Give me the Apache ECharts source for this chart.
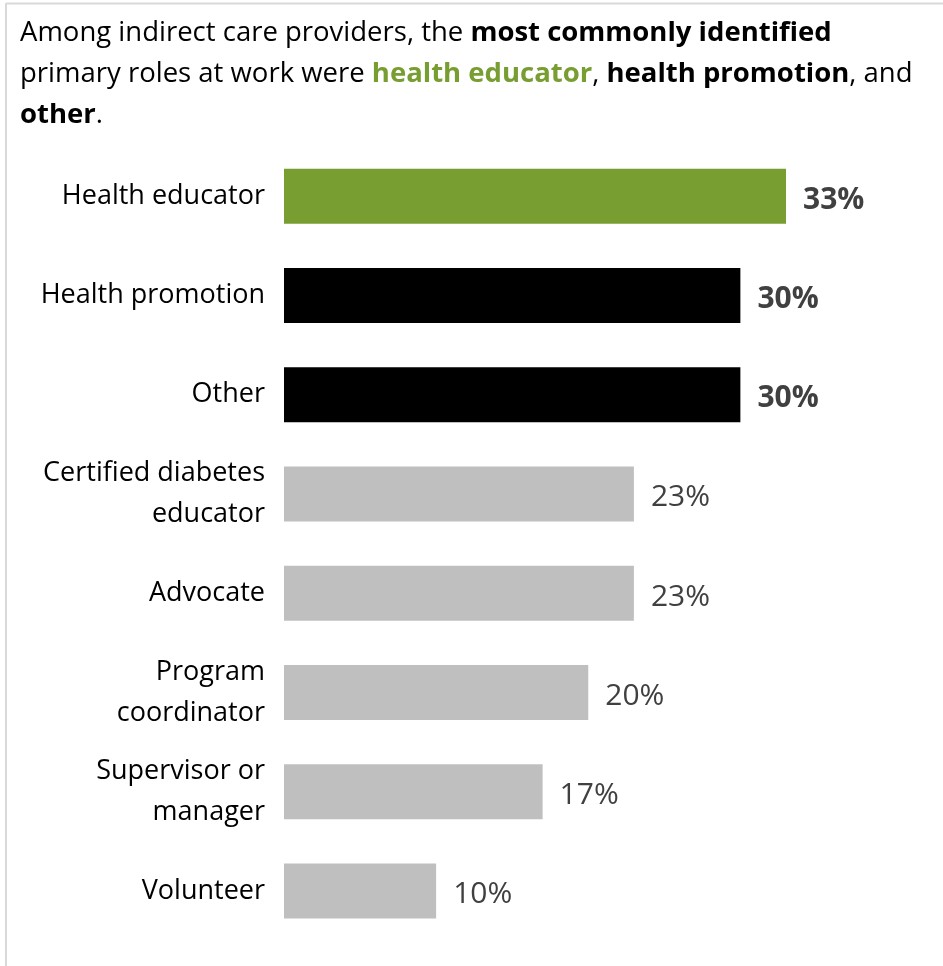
<!DOCTYPE html>
<html>
<head>
<meta charset="utf-8">
<script src="https://cdn.jsdelivr.net/npm/echarts@6/dist/echarts.min.js"></script>
<style>
  html, body { margin: 0; padding: 0; background: #ffffff; }
  #chart { width: 943px; height: 966px; }
</style>
</head>
<body>
<div id="chart"></div>
<script>
// Primary roles at work among indirect care providers (% of respondents)
const roles = [
  'Health educator',
  'Health promotion',
  'Other',
  'Certified diabetes\neducator',
  'Advocate',
  'Program\ncoordinator',
  'Supervisor or\nmanager',
  'Volunteer'
];
const shares = [33, 30, 30, 23, 23, 20, 17, 10];
// Highlight group for each role: 'lead' = top role, 'top' = other leading roles, 'rest' = remaining
const groups = ['lead', 'top', 'top', 'rest', 'rest', 'rest', 'rest', 'rest'];

const FONT = '"Open Sans", "Noto Sans", sans-serif';
const GREEN = '#789d31';
const barColors = { lead: GREEN, top: '#000000', rest: '#bfbfbf' };
const TITLE_SIZE = 27.5;

const chart = echarts.init(document.getElementById('chart'), null, { renderer: 'canvas' });

const seriesData = shares.map((v, i) => {
  const g = groups[i];
  return {
    value: v,
    itemStyle: { color: barColors[g] },
    label: {
      fontWeight: g === 'rest' ? 'normal' : 'bold'
    }
  };
});

chart.setOption({
  animation: false,
  backgroundColor: '#ffffff',
  title: {
    left: 15,
    top: 8,
    text: 'Among indirect care providers, the {b|most commonly identified}\n' +
          'primary roles at work were {g|health educator}, {b|health promotion}, and\n' +
          '{b|other}.',
    textStyle: {
      fontFamily: FONT,
      fontSize: TITLE_SIZE,
      fontWeight: 'normal',
      color: '#000000',
      lineHeight: 41,
      rich: {
        b: { fontFamily: FONT, fontSize: TITLE_SIZE, fontWeight: 'bold', color: '#000000', lineHeight: 41 },
        g: { fontFamily: FONT, fontSize: TITLE_SIZE, fontWeight: 'bold', color: GREEN, lineHeight: 41 }
      }
    }
  },
  graphic: [
    { type: 'line', shape: { x1: 6, y1: 3.5, x2: 943, y2: 3.5 }, style: { stroke: '#d9d9d9', lineWidth: 2 } },
    { type: 'line', shape: { x1: 6, y1: 3, x2: 6, y2: 966 }, style: { stroke: '#d9d9d9', lineWidth: 2 } }
  ],
  grid: {
    left: 284,
    width: 608.5,
    top: 146.5,
    height: 794,
    containLabel: false
  },
  xAxis: {
    type: 'value',
    min: 0,
    max: 40,
    show: false
  },
  yAxis: {
    type: 'category',
    data: roles,
    inverse: true,
    axisLine: { show: false },
    axisTick: { show: false },
    axisLabel: {
      margin: 19,
      fontFamily: FONT,
      fontSize: 27,
      color: '#000000',
      lineHeight: 41,
      align: 'right',
      verticalAlign: 'middle'
    }
  },
  series: [{
    type: 'bar',
    data: seriesData,
    barWidth: 55,
    label: {
      show: true,
      position: 'right',
      distance: 17,
      offset: [0, 4],
      formatter: '{c}%',
      fontFamily: FONT,
      fontSize: 30,
      color: '#404040'
    }
  }]
});
</script>
</body>
</html>
